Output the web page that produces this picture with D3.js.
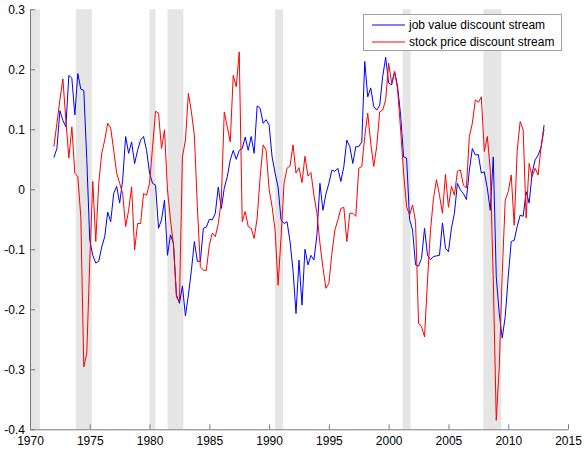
<!DOCTYPE html>
<html><head><meta charset="utf-8">
<script src="https://cdn.jsdelivr.net/npm/d3@7"></script>
<style>body{margin:0;background:#fff;} svg{display:block;font-family:"Liberation Sans",Arial,Helvetica,sans-serif;}</style>
</head><body><svg id="c" width="584" height="450"></svg>
<script>
const startYear = 1972, quarterStep = 0.25;
const jobValue = [
 0.053, 0.068, 0.131, 0.115,   0.104, 0.190, 0.185, 0.124,   0.193, 0.167, 0.165, 0.050,
 -0.085,-0.110,-0.123,-0.120,  -0.096,-0.079,-0.038,-0.054,  -0.007, 0.005,-0.023, 0.015,
 0.088, 0.060, 0.079, 0.043,   0.065, 0.082, 0.088, 0.065,   0.027, 0.010, 0.007,-0.065,
 -0.051,-0.018,-0.110,-0.076,  -0.090,-0.176,-0.190,-0.161,  -0.211,-0.176,-0.135,-0.087,
 -0.120,-0.120,-0.065,-0.063,  -0.050,-0.051,-0.040, 0.004,  -0.032, 0.002, 0.021, 0.049,
 0.065, 0.050, 0.065, 0.068,   0.087, 0.065, 0.088, 0.060,   0.139, 0.135, 0.110, 0.116,
 0.107, 0.054, 0.027, 0.004,  -0.051,-0.057,-0.054,-0.087,  -0.135,-0.207,-0.118,-0.193,
 -0.100,-0.126,-0.110,-0.118,  -0.076, 0.010,-0.035,-0.008,   0.010, 0.032, 0.030, 0.035,
 0.013, 0.038, 0.082, 0.071,   0.043, 0.071, 0.071, 0.079,   0.213, 0.154, 0.169, 0.138,
 0.132, 0.140, 0.188, 0.220,   0.177, 0.174, 0.196, 0.171,   0.124, 0.054, 0.052,-0.050,
 -0.068,-0.126,-0.128,-0.115,  -0.065,-0.110,-0.117,-0.112,  -0.111,-0.110,-0.056,-0.098,
 -0.104,-0.065,-0.040, 0.010,  -0.001,-0.007,-0.017, 0.032,   0.068, 0.057, 0.058, 0.027,
 0.029, 0.002,-0.035, 0.054,  -0.146,-0.207,-0.248,-0.212,  -0.146,-0.087,-0.085,-0.062,
 -0.043,-0.045,-0.004,-0.023,   0.027, 0.049, 0.057, 0.070,   0.107
];
const stockPrice = [
 0.071, 0.110, 0.149, 0.184,   0.115, 0.052, 0.104, 0.027,   0.021,-0.046,-0.296,-0.273,
 -0.120, 0.013,-0.087, 0.010,   0.060, 0.082, 0.110, 0.102,   0.065, 0.027, 0.010,-0.007,
 -0.062,-0.035, 0.004,-0.101,  -0.057,-0.057,-0.007,-0.010,   0.010, 0.070, 0.130, 0.127,
 0.068, 0.099,-0.001,-0.051,  -0.093,-0.180,-0.186, 0.054,   0.082, 0.160, 0.129, 0.090,
 -0.030,-0.129,-0.135,-0.135,  -0.093,-0.073,-0.079,-0.057,  -0.018, 0.129, 0.104, 0.079,
 0.190, 0.171, 0.229,-0.054,  -0.037,-0.062,-0.065,-0.082,  -0.048, 0.020, 0.074, 0.065,
 0.000,-0.029,-0.068,-0.160,  -0.079, 0.010, 0.035, 0.039,   0.074, 0.027, 0.036, 0.011,
 0.055, 0.022, 0.028,-0.010,  -0.040,-0.090,-0.130,-0.165,  -0.157,-0.107,-0.068,-0.051,
 -0.032,-0.030,-0.087,-0.040,  -0.040,-0.045, 0.035, 0.038,   0.088, 0.127, 0.077, 0.038,
 0.071, 0.129, 0.132, 0.149,   0.210, 0.177, 0.196, 0.166,   0.099, 0.027,-0.029,-0.043,
 -0.026,-0.054,-0.223,-0.229,  -0.246,-0.151,-0.068,-0.015,   0.016,-0.010,-0.040, 0.025,
 -0.030, 0.005,-0.010, 0.030,   0.032, 0.007, 0.002, 0.088,   0.110, 0.149, 0.145, 0.154,
 0.063, 0.088, 0.032,-0.150,  -0.385,-0.296,-0.140,-0.018,  -0.004, 0.024,-0.060, 0.065,
 0.113, 0.099,-0.048, 0.043,   0.021, 0.035, 0.024, 0.071,   0.100
];
const recessions = [[1969.92,1970.83],[1973.83,1975.17],[1980.0,1980.5],[1981.5,1982.83],[1990.5,1991.17],[2001.17,2001.83],[2007.92,2009.42]];
const xTickValues = [1970,1975,1980,1985,1990,1995,2000,2005,2010,2015];
const yTickValues = [-0.4,-0.3,-0.2,-0.1,0,0.1,0.2,0.3];
const seriesNames = ["job value discount stream","stock price discount stream"];
const seriesColors = ["#0000ff","#ff0000"];

const svg = d3.select("#c");
const x = d3.scaleLinear().domain([1970,2015]).range([30,568]);
const y = d3.scaleLinear().domain([-0.4,0.3]).range([429.3,9.3]);

// recession bands
svg.append("g").selectAll("rect").data(recessions).join("rect")
  .attr("x", d => x(Math.max(d[0],1970)))
  .attr("width", d => x(d[1]) - x(Math.max(d[0],1970)))
  .attr("y", y(0.3)).attr("height", y(-0.4) - y(0.3))
  .attr("fill", "#e5e5e5");

const axisColor = "#7a7a7a";
const xAxis = svg.append("g").attr("transform", `translate(0,${y(-0.4)})`)
  .call(d3.axisBottom(x).tickValues(xTickValues).tickFormat(d => String(d)).tickSizeInner(-5).tickSizeOuter(0).tickPadding(7));
const yAxis = svg.append("g").attr("transform", `translate(${x(1970)},0)`)
  .call(d3.axisLeft(y).tickValues(yTickValues).tickFormat(d => String(d)).tickSizeInner(-5).tickSizeOuter(0).tickPadding(5));
[xAxis, yAxis].forEach(g => {
  g.select(".domain").attr("stroke", axisColor);
  g.selectAll(".tick line").attr("stroke", axisColor);
  g.selectAll(".tick text").attr("fill", "#000").style("font-size", "12px").style("font-family", '"Liberation Sans",Arial,sans-serif');
});

const line = d3.line().x((d,i) => x(startYear + i*quarterStep)).y(d => y(d));
[jobValue, stockPrice].forEach((s, k) => {
  svg.append("path").datum(s).attr("d", line).attr("fill","none")
    .attr("stroke", seriesColors[k]).attr("stroke-width", 1);
});

// legend
const lg = svg.append("g");
lg.append("rect").attr("x", 363.5).attr("y", 14.5).attr("width", 198).attr("height", 36)
  .attr("fill", "#fff").attr("stroke", "#a0a0a0");
seriesNames.forEach((n, k) => {
  const yy = 25 + k*17;
  lg.append("line").attr("x1", 372).attr("x2", 405).attr("y1", yy).attr("y2", yy)
    .attr("stroke", seriesColors[k]).attr("stroke-width", 1);
  lg.append("text").attr("x", 409).attr("y", yy).attr("dy", "0.35em")
    .style("font-size", "12px").text(n);
});
</script></body></html>
